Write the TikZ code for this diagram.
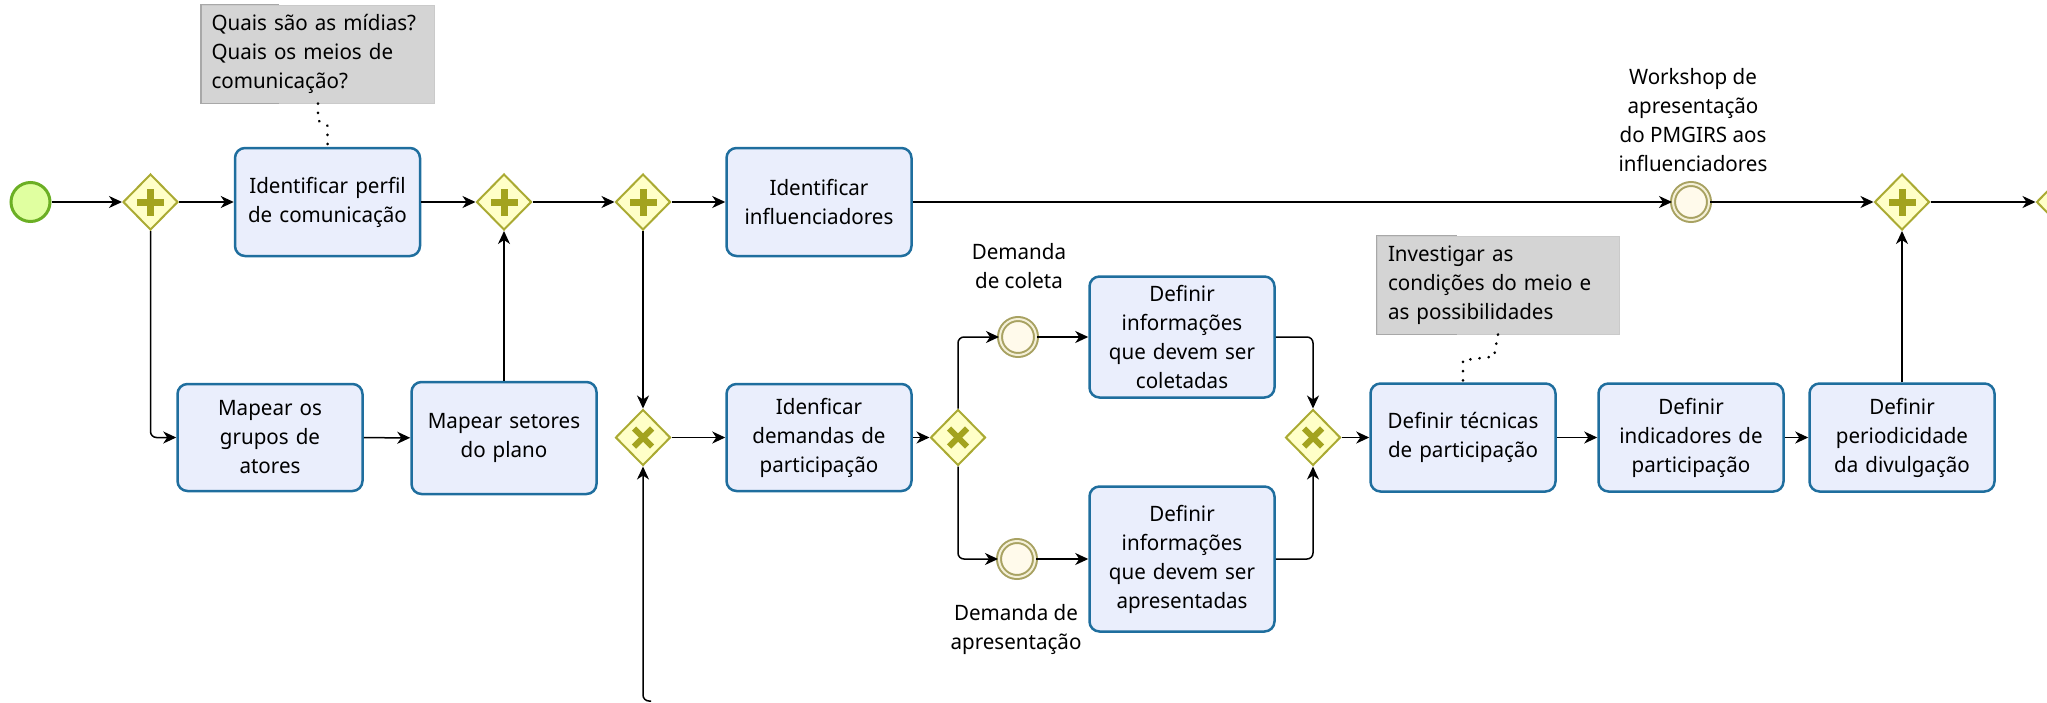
\documentclass[tikz,border=0pt]{standalone}
\usepackage{fontspec}
\setmainfont{Noto Sans}[FakeStretch=0.97]
\usetikzlibrary{shapes.geometric,arrows.meta,calc}
\definecolor{taskfill}{HTML}{EAEEFC}
\definecolor{taskborder}{HTML}{1F6E9E}
\definecolor{gwfill}{HTML}{FFFFC8}
\definecolor{gwborder}{HTML}{AAAA33}
\definecolor{gwsym}{HTML}{A3A31F}
\definecolor{startfill}{HTML}{E0FFA0}
\definecolor{startborder}{HTML}{6BAF24}
\definecolor{evborder}{HTML}{A8A262}
\definecolor{evfill}{HTML}{FFFAEB}
\definecolor{evgap}{HTML}{F4F0D8}
\definecolor{notefill}{HTML}{D4D4D4}
\definecolor{noteborder}{HTML}{CACACA}
\definecolor{notebracket}{HTML}{A8A8A8}
\begin{document}
\begin{tikzpicture}[x=0.5pt,y=-0.5pt,
  every node/.style={font=\fontsize{10.6}{14.5}\selectfont},
  task/.style={draw=taskborder, fill=taskfill, line width=1.25pt, rounded corners=5pt,
    minimum width=92.5pt, text width=90pt, align=center, inner sep=0pt},
  gateway/.style={diamond, draw=gwborder, fill=gwfill, line width=1pt,
    minimum width=27.5pt, minimum height=28pt, inner sep=0pt},
  plusgw/.style={gateway, path picture={
    \fill[gwsym] ([xshift=-6.75pt,yshift=-1.75pt]path picture bounding box.center) rectangle ([xshift=6.75pt,yshift=1.75pt]path picture bounding box.center);
    \fill[gwsym] ([xshift=-1.75pt,yshift=-6.75pt]path picture bounding box.center) rectangle ([xshift=1.75pt,yshift=6.75pt]path picture bounding box.center);}},
  xgw/.style={gateway, path picture={
    \draw[gwsym, line width=3pt] ([xshift=-4.5pt,yshift=-4.5pt]path picture bounding box.center) -- ([xshift=4.5pt,yshift=4.5pt]path picture bounding box.center);
    \draw[gwsym, line width=3pt] ([xshift=-4.5pt,yshift=4.5pt]path picture bounding box.center) -- ([xshift=4.5pt,yshift=-4.5pt]path picture bounding box.center);}},
  startev/.style={circle, draw=startborder, fill=startfill, line width=1.5pt, minimum size=19.5pt, inner sep=0pt},
  midev/.style={circle, draw=evborder, double=evgap, double distance=1pt, line width=1pt, fill=evfill, minimum size=18pt, inner sep=0pt},
  note/.style={fill=notefill, draw=noteborder, line width=0.5pt, align=left, inner ysep=0pt, minimum height=49pt},
  bracket/.style={draw=notebracket, line width=0.8pt},
  lbl/.style={align=center, inner sep=0pt},
  flow/.style={draw=black, line width=0.75pt, -{Stealth[length=6.5pt,width=6pt,inset=2pt]}},
  elbow/.style={flow, rounded corners=3pt},
  assoc/.style={draw=black, line width=1.4pt, dash pattern=on 0.1pt off 4.5pt, line cap=round}
]
\useasboundingbox (0,0) rectangle (2047,702);
\clip (0,0) rectangle (2047,702);

% notes
\node[note, text width=106.5pt, inner xsep=5pt] (note1) at (318,54) {Quais são as mídias?\\Quais os meios de\\comunicação?};
\draw[bracket] ([xshift=39pt]note1.north west) -- (note1.north west) -- (note1.south west) -- ([xshift=39pt]note1.south west);
\node[note, text width=110pt, inner xsep=5.5pt] (note2) at (1498,285) {Investigar as\\condições do meio e\\as possibilidades};
\draw[bracket] ([xshift=40pt]note2.north west) -- (note2.north west) -- (note2.south west) -- ([xshift=40pt]note2.south west);

% events
\node[startev] (s) at (30.5,202) {};
\node[midev] (ew) at (1691,202) {};
\node[midev] (ec) at (1018,337) {};
\node[midev] (ea) at (1017,559) {};

% labels
\node[lbl] (lw) at (1693,120) {Workshop de\\apresentação\\do PMGIRS aos\\influenciadores};
\node[lbl] (lc) at (1019,266) {Demanda\\de coleta};
\node[lbl] (la) at (1016,629) {Demanda de\\apresentação};

% gateways
\node[plusgw] (g1) at (150.5,202) {};
\node[plusgw] (g2) at (504,202) {};
\node[plusgw] (g3) at (643,202) {};
\node[plusgw] (g4) at (1902,202) {};
\node[gateway] (g5) at (2064,202) {};
\node[xgw] (x1) at (643,437.5) {};
\node[xgw] (x2) at (958,437.5) {};
\node[xgw] (x3) at (1313,437.5) {};

% tasks
\node[task, minimum height=54pt] (t1) at (327.5,202) {Identificar perfil\\de comunicação};
\node[task, minimum height=54pt] (t2) at (819,202) {Identificar\\influenciadores};
\node[task, minimum height=53.5pt] (ta) at (270,437.5) {Mapear os\\grupos de\\atores};
\node[task, minimum height=56pt] (tb) at (504,438) {Mapear setores\\do plano};
\node[task, minimum height=53.5pt] (tc) at (819,437.5) {Idenficar\\demandas de\\participação};
\node[task, minimum height=60.5pt] (td) at (1182,337) {Definir\\informações\\que devem ser\\coletadas};
\node[task, minimum height=72.5pt] (te) at (1182,559) {Definir\\informações\\que devem ser\\apresentadas};
\node[task, minimum height=54pt] (tf) at (1463,437.5) {Definir técnicas\\de participação};
\node[task, minimum height=54pt] (tg) at (1691,437.5) {Definir\\indicadores de\\participação};
\node[task, minimum height=54pt] (th) at (1902,437.5) {Definir\\periodicidade\\da divulgação};

\coordinate (bot) at (651,701);

% associations
\draw[assoc] (note1.south) -- ++(0,17) -- ($(t1.north)+(0,-21)$) -- (t1.north);
\draw[assoc] (note2.south) -- ++(-4,22) -- ($(tf.north)+(0,-22)$) -- (tf.north);

% flows
\draw[flow] (s) -- (g1);
\draw[flow] (g1) -- (t1);
\draw[elbow] (g1.south) |- (ta.west);
\draw[flow] (t1) -- (g2);
\draw[flow] (ta) -- (tb);
\draw[flow] (tb.north) -- (g2.south);
\draw[flow] (g2) -- (g3);
\draw[flow] (g3) -- (t2);
\draw[flow] (g3.south) -- (x1.north);
\draw[elbow] (bot) -| (x1.south);
\draw[flow] (x1) -- (tc);
\draw[flow] (tc) -- (x2);
\draw[elbow] (x2.north) |- (ec.west);
\draw[elbow] (x2.south) |- (ea.west);
\draw[flow] (ec) -- (td);
\draw[flow] (ea) -- (te);
\draw[elbow] (td.east) -| (x3.north);
\draw[elbow] (te.east) -| (x3.south);
\draw[flow] (x3) -- (tf);
\draw[flow] (tf) -- (tg);
\draw[flow] (tg) -- (th);
\draw[flow] (th.north) -- (g4.south);
\draw[flow] (t2) -- (ew);
\draw[flow] (ew) -- (g4);
\draw[flow] (g4) -- (g5);
\end{tikzpicture}
\end{document}
